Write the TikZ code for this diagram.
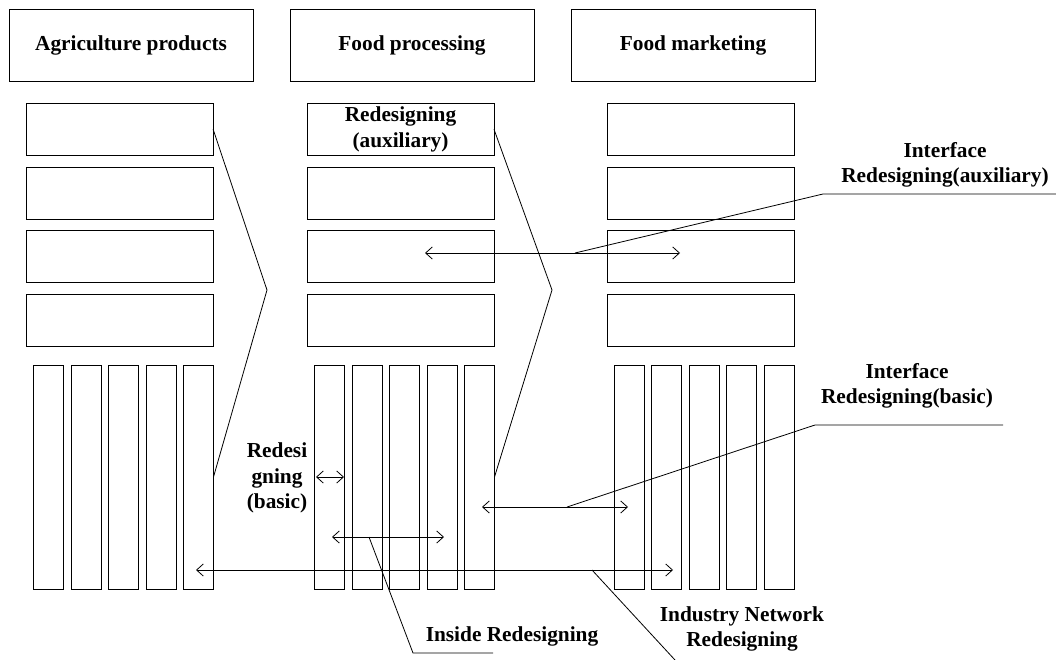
\documentclass[tikz,border=0pt]{standalone}
\usepackage{fontspec}
\setmainfont{Liberation Serif}
\usetikzlibrary{positioning,arrows.meta}

\begin{document}
\begin{tikzpicture}[x=0.75pt,y=-0.75pt,on grid,line width=0.6pt,
   every node/.style={font=\fontsize{16}{19}\selectfont\bfseries,inner sep=0pt,outer sep=0pt},
   head/.style={draw,minimum width=183pt,minimum height=54pt},
   slot/.style={draw,align=center,minimum width=140.25pt,minimum height=39pt},
   bar/.style={draw,minimum width=22.5pt,minimum height=168pt},
   lbl/.style={align=center},
   twoway/.style={{Straight Barb[length=5pt,width=9pt]}-{Straight Barb[length=5pt,width=9pt]}}]
   \useasboundingbox (0,0) rectangle (1056,660);
   % chain headers
   \node[head] (agri) at (131,45) {Agriculture products};
   \node[head] (proc) [right=210.75pt of agri] {Food processing};
   \node[head] (mark) [right=210.75pt of proc] {Food marketing};
   % auxiliary slots
   \node[slot] (agri-1) at (119.6,129.3) {};
   \node[slot] (agri-2) [below=47.7pt of agri-1] {};
   \node[slot] (agri-3) [below=47.7pt of agri-2] {};
   \node[slot] (agri-4) [below=47.7pt of agri-3] {};
   \node[slot] (proc-1) at (400.5,129.3) {Redesigning\\(auxiliary)};
   \node[slot] (proc-2) [below=47.7pt of proc-1] {};
   \node[slot] (proc-3) [below=47.7pt of proc-2] {};
   \node[slot] (proc-4) [below=47.7pt of proc-3] {};
   \node[slot] (mark-1) at (700.5,129.3) {};
   \node[slot] (mark-2) [below=47.7pt of mark-1] {};
   \node[slot] (mark-3) [below=47.7pt of mark-2] {};
   \node[slot] (mark-4) [below=47.7pt of mark-3] {};
   % basic bars
   \node[bar] (agri-b1) at (48.5,477) {};
   \node[bar] (agri-b2) [right=28.125pt of agri-b1] {};
   \node[bar] (agri-b3) [right=28.125pt of agri-b2] {};
   \node[bar] (agri-b4) [right=28.125pt of agri-b3] {};
   \node[bar] (agri-b5) [right=28.125pt of agri-b4] {};
   \node[bar] (proc-b1) at (329.5,477) {};
   \node[bar] (proc-b2) [right=28.125pt of proc-b1] {};
   \node[bar] (proc-b3) [right=28.125pt of proc-b2] {};
   \node[bar] (proc-b4) [right=28.125pt of proc-b3] {};
   \node[bar] (proc-b5) [right=28.125pt of proc-b4] {};
   \node[bar] (mark-b1) at (629.3,477) {};
   \node[bar] (mark-b2) [right=28.125pt of mark-b1] {};
   \node[bar] (mark-b3) [right=28.125pt of mark-b2] {};
   \node[bar] (mark-b4) [right=28.125pt of mark-b3] {};
   \node[bar] (mark-b5) [right=28.125pt of mark-b4] {};
   % chevrons
   \coordinate (agri-tip) at (267,290);
   \coordinate (proc-tip) at (552,290);
   \draw (agri-1.east) -- (agri-tip) -- (agri-b5.east);
   \draw (proc-1.east) -- (proc-tip) -- (proc-b5.east);
   % labels
   \node[lbl] (aux-lbl) at (945,165) {Interface\\Redesigning(auxiliary)};
   \node[lbl] (ifb-lbl) at (907,386) {Interface\\Redesigning(basic)};
   \node[lbl] (rb-lbl) at (277,478) {Redesi\\gning\\(basic)};
   \node (in-lbl) at (512,636) {Inside Redesigning};
   \node[lbl] (net-lbl) at (742,629) {Industry Network\\Redesigning};
   % arrow ends and leader points
   \coordinate (aux-l) at (425,253);   \coordinate (aux-r) at (680,253);
   \coordinate (aux-m) at (575,253);   \coordinate (aux-k) at (823,194);
   \coordinate (aux-e) at (1056,194);
   \coordinate (ifb-l) at (482,507);   \coordinate (ifb-r) at (628,507);
   \coordinate (ifb-m) at (567,507);   \coordinate (ifb-k) at (815,425);
   \coordinate (ifb-e) at (1003,425);
   \coordinate (rb-l) at (316,477);    \coordinate (rb-r) at (344,477);
   \coordinate (in-l) at (332,537);    \coordinate (in-r) at (444,537);
   \coordinate (in-m) at (369,537);    \coordinate (in-k) at (413,653);
   \coordinate (in-e) at (493,653);
   \coordinate (net-l) at (196,570);   \coordinate (net-r) at (673,570);
   \coordinate (net-m) at (592,570);   \coordinate (net-e) at (675,660);
   \draw[twoway] (aux-l) -- (aux-r);
   \draw (aux-m) -- (aux-k) -- (aux-e);
   \draw[twoway] (ifb-l) -- (ifb-r);
   \draw (ifb-m) -- (ifb-k) -- (ifb-e);
   \draw[twoway] (rb-l) -- (rb-r);
   \draw[twoway] (in-l) -- (in-r);
   \draw (in-m) -- (in-k) -- (in-e);
   \draw[twoway] (net-l) -- (net-r);
   \draw (net-m) -- (net-e);
\end{tikzpicture}
\end{document}
